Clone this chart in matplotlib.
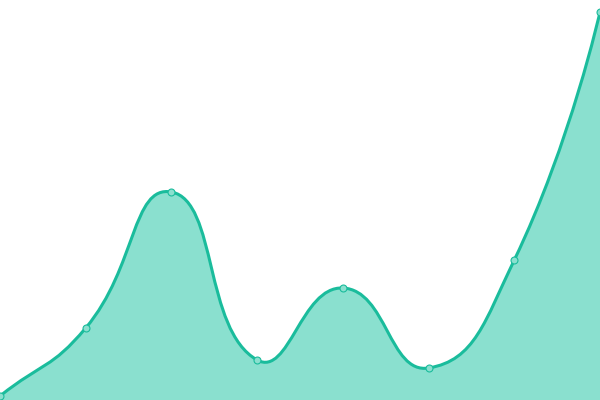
import numpy as np
import matplotlib
matplotlib.use("Agg")
import matplotlib.pyplot as plt
from matplotlib.path import Path
from matplotlib.patches import PathPatch

# valores de la serie (escala 0-100)
categorias = [0, 1, 2, 3, 4, 5, 6, 7]
valores = [1, 18, 52, 10, 28, 8, 35, 97]

color_linea = "#1abc9c"
color_relleno = "#8ae0cf"
suavizado = 0.5


def curva_suave(xs, ys, sx, sy):
    # bezier tipo echarts (smooth=0.5), distancias medidas en pixeles
    n = len(xs)
    verts = [(xs[0], ys[0])]
    codes = [Path.MOVETO]
    cp_sig = (xs[0], ys[0])
    for i in range(n):
        x, y = xs[i], ys[i]
        px, py = (xs[i - 1], ys[i - 1]) if i > 0 else (x, y)
        if i + 1 < n:
            nx, ny = xs[i + 1], ys[i + 1]
            vx, vy = nx - px, ny - py
            d0 = np.hypot((x - px) * sx, (y - py) * sy)
            d1 = np.hypot((nx - x) * sx, (ny - y) * sy)
            r = d1 / (d0 + d1)
            cp0 = (x - vx * suavizado * (1 - r), y - vy * suavizado * (1 - r))
            cp1 = (x + vx * suavizado * r, y + vy * suavizado * r)
        else:
            cp0 = (x, y)
            cp1 = (x, y)
        if i > 0:
            verts += [cp_sig, cp0, (x, y)]
            codes += [Path.CURVE4] * 3
        cp_sig = cp1
    return verts, codes


fig = plt.figure(figsize=(6, 4), dpi=100)
ax = fig.add_axes([0, 0, 1, 1])
ax.set_xlim(0, 7)
ax.set_ylim(0, 100)
ax.axis("off")

verts, codes = curva_suave(categorias, valores, 600 / 7, 4)

# area
v_area = verts + [(categorias[-1], 0), (categorias[0], 0), verts[0]]
c_area = codes + [Path.LINETO, Path.LINETO, Path.CLOSEPOLY]
ax.add_patch(PathPatch(Path(v_area, c_area), facecolor=color_relleno,
                       edgecolor="none", zorder=1))
# linea
ax.add_patch(PathPatch(Path(verts, codes), facecolor="none",
                       edgecolor=color_linea, lw=2.2, zorder=2,
                       capstyle="round", joinstyle="round"))
# puntos
ax.plot(categorias, valores, "o", ms=5, mfc=color_relleno,
        mec=color_linea, mew=0.8, zorder=3)

fig.savefig("out.png", dpi=100)
